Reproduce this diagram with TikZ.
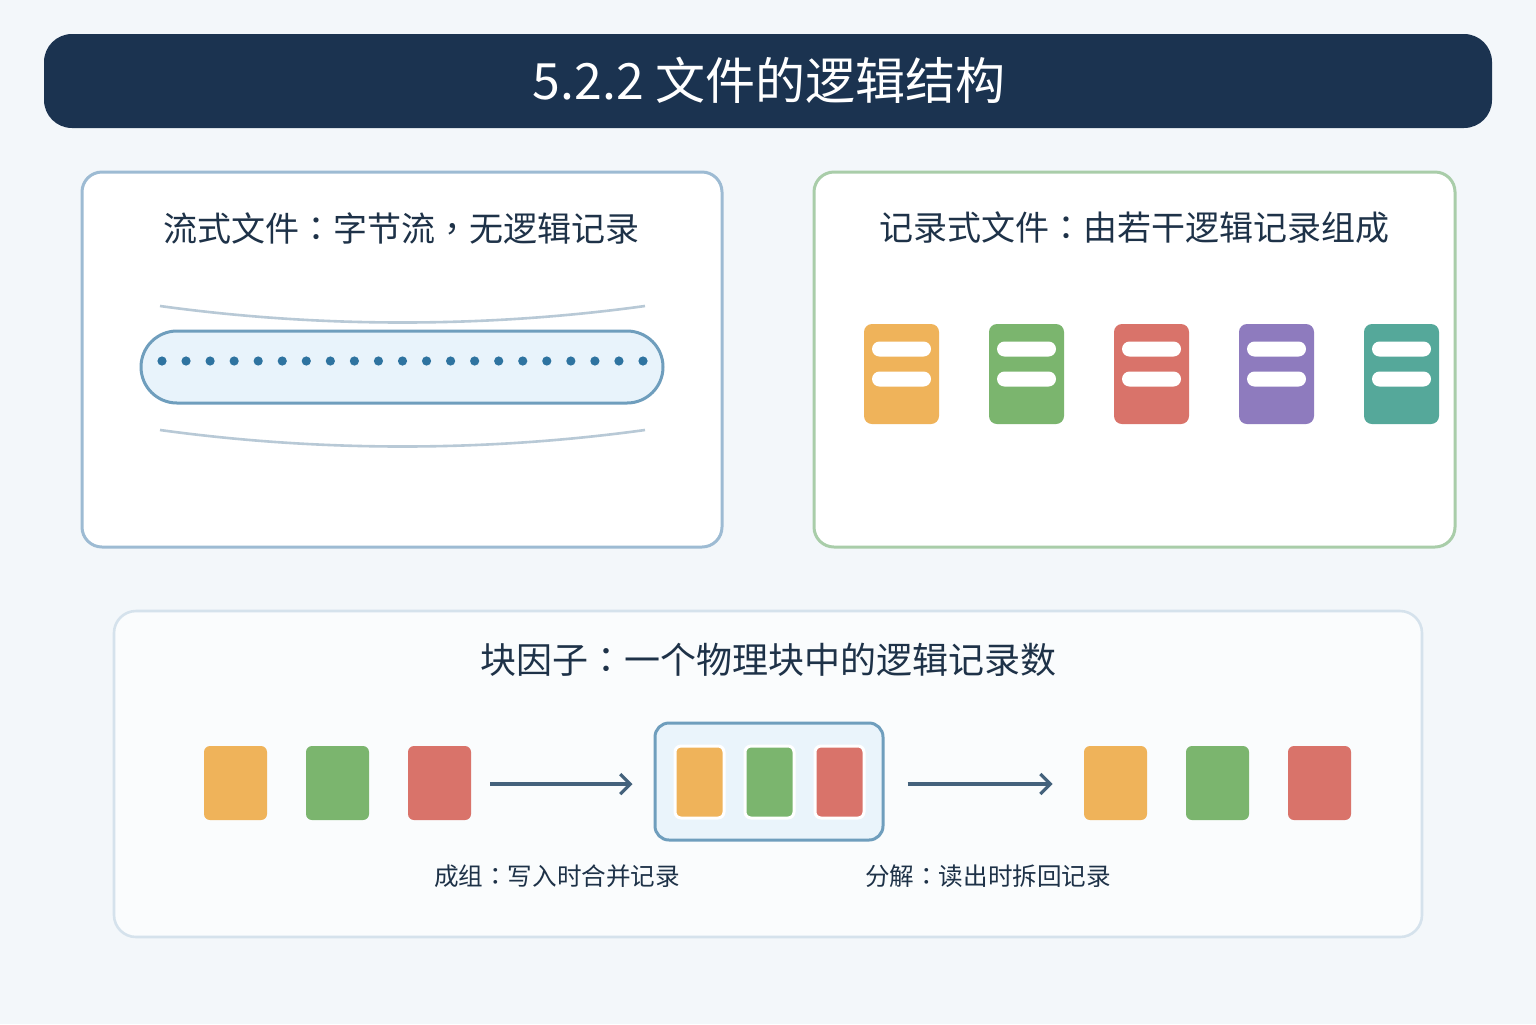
\documentclass[tikz,border=0pt]{standalone}
\usepackage{fontspec}
\setmainfont{Noto Sans CJK SC}
\newfontfamily\cjkf{Noto Sans CJK SC}
\newfontfamily\tcpunct{Noto Sans CJK TC}
\newcommand{\fcolon}{{\tcpunct ：}}
\newcommand{\fcomma}{{\tcpunct ，}}
\usetikzlibrary{arrows.meta,calc}
\definecolor{bgc}{HTML}{F3F7FA}
\definecolor{navy}{HTML}{1B3350}
\definecolor{panelblue}{HTML}{9DBBD3}
\definecolor{panelgreen}{HTML}{A9CDA9}
\definecolor{panelgray}{HTML}{D5E2EC}
\definecolor{curvec}{HTML}{B8C9D6}
\definecolor{pillfill}{HTML}{E8F3FB}
\definecolor{pillline}{HTML}{6F9EBD}
\definecolor{dotc}{HTML}{2E73A0}
\definecolor{corange}{HTML}{EFB35A}
\definecolor{cgreen}{HTML}{7BB56E}
\definecolor{cred}{HTML}{D9736A}
\definecolor{cpurple}{HTML}{8E7BBE}
\definecolor{cteal}{HTML}{55A89A}
\definecolor{arrowc}{HTML}{44627C}
\definecolor{grpfill}{HTML}{EAF4FB}
\definecolor{textc}{HTML}{1E3248}
\tikzset{
  panel/.style={draw, line width=1.5pt, rounded corners=10pt, fill=white},
  recicon/.style={rounded corners=4pt, minimum width=37.5pt, minimum height=50pt, inner sep=0pt, draw=none},
  recbar/.style={fill=white, rounded corners=3.75pt, minimum width=29.5pt, minimum height=7.5pt, inner sep=0pt, draw=none},
  blk/.style={rounded corners=3pt, minimum width=31.5pt, minimum height=37pt, inner sep=0pt, draw=none},
  iblk/.style={rounded corners=3pt, minimum width=24.5pt, minimum height=36pt, inner sep=0pt, draw=white, line width=1.5pt},
  flowarrow/.style={draw=arrowc, line width=1.6pt, -{Straight Barb[length=5pt,width=10pt,line width=1.6pt]}},
  ptitle/.style={text=textc, font=\cjkf\fontsize{17pt}{20pt}\selectfont, inner sep=0pt},
  lbl/.style={text=textc, font=\cjkf\fontsize{12.3pt}{15pt}\selectfont, inner sep=0pt},
  curveline/.style={draw=curvec, line width=1.3pt}
}
\begin{document}
\begin{tikzpicture}[x=0.5pt,y=-0.5pt]
\useasboundingbox (0,0) rectangle (1536,1024);
\fill[bgc] (0,0) rectangle (1536,1024);
% title bar
\node[fill=navy, rounded corners=14pt, minimum width=724pt, minimum height=47pt, inner sep=0pt] (titlebar) at (768,81) {};
\node[text=white, font=\cjkf\fontsize{25pt}{30pt}\selectfont, inner sep=0pt] (titletext) at (769,80) {5.2.2 文件的逻辑结构};
% left panel
\node[panel, draw=panelblue, minimum width=320pt, minimum height=187.5pt, inner sep=0pt] (lpanel) at (402,359.5) {};
\node[ptitle] (ltitle) at (401,228) {流式文件\fcolon 字节流\fcomma 无逻辑记录};
\draw[curveline] (160,306) .. controls (320,328) and (485,328) .. (645,306);
\draw[curveline] (160,430) .. controls (320,452) and (485,452) .. (645,430);
\node[draw=pillline, fill=pillfill, line width=1.5pt, rounded corners=18pt, minimum width=261pt, minimum height=36pt, inner sep=0pt] (pill) at (402,367) {};
\foreach \i in {0,...,20} {
  \fill[dotc] ({162+\i*24.05},361) circle (2.3pt);
}
% right panel
\node[panel, draw=panelgreen, minimum width=320.5pt, minimum height=187.5pt, inner sep=0pt] (rpanel) at (1134.5,359.5) {};
\node[ptitle] (rtitle) at (1134,228) {记录式文件\fcolon 由若干逻辑记录组成};
\foreach \c/\n [count=\k from 0] in {corange/r1,cgreen/r2,cred/r3,cpurple/r4,cteal/r5} {
  \node[recicon, fill=\c] (\n) at ({901.5+\k*125},374) {};
  \node[recbar] (\n a) at ({901.5+\k*125},349) {};
  \node[recbar] (\n b) at ({901.5+\k*125},379) {};
}
% bottom panel
\node[draw=panelgray, fill=white!60!bgc, line width=1.3pt, rounded corners=11pt, minimum width=654pt, minimum height=163pt, inner sep=0pt] (bpanel) at (768,774) {};
\node[text=textc, font=\cjkf\fontsize{18pt}{21pt}\selectfont, inner sep=0pt] (btitle) at (768,660) {块因子\fcolon 一个物理块中的逻辑记录数};
% left blocks
\node[blk, fill=corange] (l1) at (235.5,783) {};
\node[blk, fill=cgreen] (l2) at (337.5,783) {};
\node[blk, fill=cred] (l3) at (439.5,783) {};
% group
\node[draw=pillline, fill=grpfill, line width=1.5pt, rounded corners=7pt, minimum width=114pt, minimum height=58.5pt, inner sep=0pt] (grp) at (769,781.5) {};
\node[iblk, fill=corange] (g1) at (699.5,782) {};
\node[iblk, fill=cgreen] (g2) at (769.5,782) {};
\node[iblk, fill=cred] (g3) at (839.5,782) {};
% right blocks
\node[blk, fill=corange] (s1) at (1115.5,783) {};
\node[blk, fill=cgreen] (s2) at (1217.5,783) {};
\node[blk, fill=cred] (s3) at (1319.5,783) {};
% arrows
\draw[flowarrow, shorten <=9.5pt, shorten >=10.5pt] (l3.east |- 0,784) -- (grp.west |- 0,784);
\draw[flowarrow, shorten <=11.5pt, shorten >=15.5pt] (grp.east |- 0,784) -- (s1.west |- 0,784);
% labels
\node[lbl] (lab1) at (557,876) {成组\fcolon 写入时合并记录};
\node[lbl] (lab2) at (988,876) {分解\fcolon 读出时拆回记录};
\end{tikzpicture}
\end{document}
